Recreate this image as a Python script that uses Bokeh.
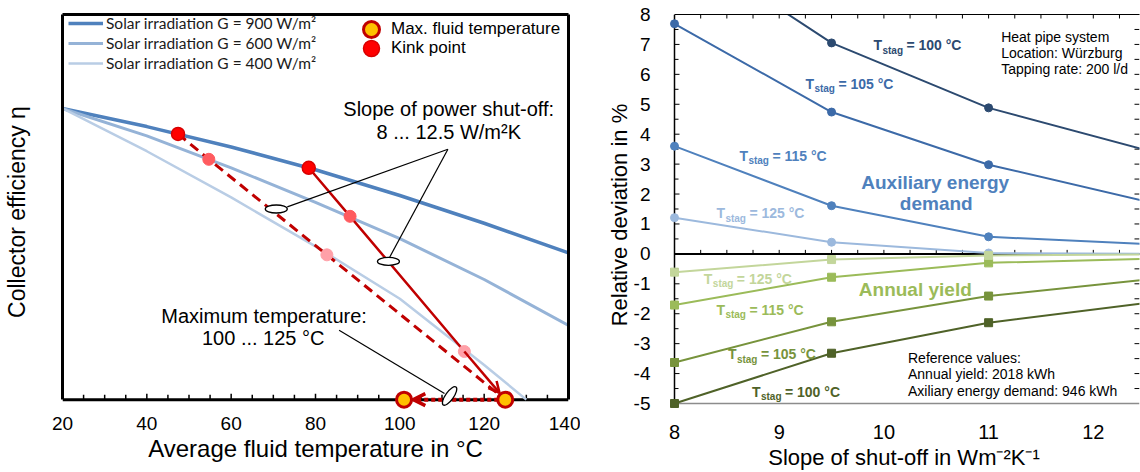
import numpy as np
from bokeh.plotting import figure
from bokeh.layouts import row
from bokeh.models import (Range1d, LinearAxis, FixedTicker, Legend, LegendItem, Arrow,
                          OpenHead)
from bokeh.core.properties import value
from bokeh.embed import file_html
from bokeh.resources import INLINE

# ---------------- data : left panel (collector efficiency curves) ----------------
temp = [20, 40, 60, 80, 100, 120, 140]
eta_900 = [0.756, 0.709, 0.656, 0.597, 0.530, 0.458, 0.381]
eta_600 = [0.756, 0.685, 0.602, 0.512, 0.418, 0.312, 0.193]
temp_400 = [20, 40, 60, 80, 100, 120, 130]
eta_400 = [0.756, 0.645, 0.525, 0.398, 0.262, 0.090, 0.0]

kink_t = [47.4, 78.4]
kink_eta = [0.690, 0.602]
pink600_t = [54.7, 88.2]
pink600_eta = [0.624, 0.476]
pink400_t = [82.7, 115.3]
pink400_eta = [0.376, 0.125]
max_t = [101, 125]
max_eta = [0.0, 0.0]

dashed_t = [47.4, 54.7, 82.7, 125]
dashed_eta = [0.690, 0.624, 0.376, 0.0]
solid_t = [78.4, 88.2, 115.3, 125]
solid_eta = [0.602, 0.476, 0.125, 0.0]

left_ticks = [20, 40, 60, 80, 100, 120, 140]

# ---------------- data : right panel (relative deviation) ----------------
slope = [8, 9.5, 11, 12.5]
aux_100 = [10.5, 7.05, 4.88, 3.47]
aux_105 = [7.69, 4.74, 2.98, 1.76]
aux_115 = [3.60, 1.61, 0.57, 0.33]
aux_125 = [1.21, 0.39, 0.03, 0.0]
yield_125 = [-0.61, -0.19, -0.05, -0.02]
yield_115 = [-1.71, -0.78, -0.30, -0.165]
yield_105 = [-3.63, -2.27, -1.41, -0.86]
yield_100 = [-5.0, -3.32, -2.30, -1.64]

x_ticks = [8, 9, 10, 11, 12]
y_ticks = [-5, -4, -3, -2, -1, 0, 1, 2, 3, 4, 5, 6, 7, 8]
y_tick_labels = ["-5", "-4", "-3", "-2", "-1", "0", "1", "2", "3", "4", "5", "6", "7", "8"]

FONT = "Liberation Sans"
DARKRED = "#C00000"

def bare_axis(width, color="black", bounds="auto"):
    return LinearAxis(ticker=FixedTicker(ticks=[]), major_tick_in=0, major_tick_out=0,
                      minor_tick_in=0, minor_tick_out=0, major_label_standoff=0,
                      axis_line_color=color, axis_line_width=width, bounds=bounds)

# =============================== LEFT PANEL ===============================
LW, LH = 580, 472
L_BL, L_BR, L_BT, L_BB = 59, 12, 12, 59
L_Y0 = -10 / 391          # small margin below eta = 0 so bottom markers are not clipped
left = figure(width=LW, height=LH, x_range=Range1d(20, 140), y_range=Range1d(L_Y0, 1),
              output_backend="svg", toolbar_location=None,
              min_border_left=L_BL, min_border_right=L_BR, min_border_top=L_BT,
              min_border_bottom=L_BB)
left.grid.grid_line_color = None
left.outline_line_color = None
left.background_fill_color = "white"
left.border_fill_color = "white"
l_py = (LH - L_BT - L_BB) / (1 - L_Y0)      # pixels per efficiency unit

xa = left.xaxis[0]
xa.ticker = FixedTicker(ticks=left_ticks)
xa.axis_line_color = None
xa.major_tick_in = 0
xa.major_tick_out = 0
xa.minor_tick_in = 0
xa.minor_tick_out = 0
xa.major_label_text_font = FONT
xa.major_label_text_font_size = "19px"
xa.major_label_text_color = "black"
xa.major_label_standoff = 7
xa.axis_label = "Average fluid temperature in °C"
xa.axis_label_text_font = FONT
xa.axis_label_text_font_size = "24px"
xa.axis_label_text_font_style = "normal"
xa.axis_label_text_color = "black"
xa.axis_label_standoff = 2

ya = left.yaxis[0]
ya.ticker = FixedTicker(ticks=[])
ya.axis_line_color = "black"
ya.axis_line_width = 3
ya.bounds = (0, 1)
ya.major_tick_in = 0
ya.major_tick_out = 0
ya.minor_tick_in = 0
ya.minor_tick_out = 0
ya.major_label_standoff = 0
ya.axis_label = "Collector efficiency η"
ya.axis_label_text_font = FONT
ya.axis_label_text_font_size = "23px"
ya.axis_label_text_font_style = "normal"
ya.axis_label_text_color = "black"
ya.axis_label_standoff = 33

left.add_layout(bare_axis(3), "above")
left.add_layout(bare_axis(3, bounds=(0, 1)), "right")

# temperature axis line at eta = 0 with inward ticks
left.segment(x0=[20], y0=[0], x1=[140], y1=[0], line_color="black", line_width=3)
tt = np.arange(25, 140, 5)
tl = np.where(tt % 20 == 0, 6, 5) / l_py
left.segment(x0=tt, y0=np.zeros(len(tt)), x1=tt, y1=tl, line_color="black", line_width=1.5)

r900 = left.line(temp, eta_900, line_color="#4F81BD", line_width=3.5)
r600 = left.line(temp, eta_600, line_color="#95B3D7", line_width=3)
r400 = left.line(temp_400, eta_400, line_color="#B9CDE5", line_width=2.5)

# shut-off lines
left.line(dashed_t, dashed_eta, line_color=DARKRED, line_width=3, line_dash="10 6")
left.line(solid_t[:-1], solid_eta[:-1], line_color=DARKRED, line_width=2.5)

# arrow heads (tip stops at the edge of the max.-temperature marker)
f = 0.14
tip_x = solid_t[-1] + f * (solid_t[-2] - solid_t[-1])
tip_y = solid_eta[-1] + f * (solid_eta[-2] - solid_eta[-1])
left.add_layout(Arrow(end=OpenHead(size=11, line_color=DARKRED, line_width=2.5),
                      x_start=solid_t[-2], y_start=solid_eta[-2], x_end=tip_x, y_end=tip_y,
                      line_color=DARKRED, line_width=2.5))
dot_tip = max_t[0] + 2.2
left.add_layout(Arrow(end=OpenHead(size=12, line_color=DARKRED, line_width=3.5),
                      x_start=max_t[1], y_start=max_eta[1], x_end=dot_tip, y_end=max_eta[0],
                      line_color=DARKRED, line_width=4, line_dash="4 3"))

# callout lines and ellipses
apex = (111.4, 0.650)
left.segment(x0=[73.3, 97.4, 85.6], y0=[0.5005, 0.366, 0.180],
             x1=[apex[0], apex[0], 110.6], y1=[apex[1], apex[1], 0.016],
             line_color="black", line_width=1.2)
left.ellipse(x=[70.7, 97.3], y=[0.495, 0.359], width=22, height=8,
             width_units="screen", height_units="screen",
             fill_color="white", line_color="black", line_width=1.3)
left.ellipse(x=[111.8], y=[0.0095], width=22, height=8, angle=0.95,
             width_units="screen", height_units="screen",
             fill_color="white", line_color="black", line_width=1.3, level="overlay")

# markers
left.scatter(pink600_t, pink600_eta, size=12, fill_color="#FF5B5F", line_color="#FF5B5F")
left.scatter(pink400_t, pink400_eta, size=12, fill_color="#FFA0A8", line_color="#FFA0A8")
r_kink = left.scatter(kink_t, kink_eta, size=13, fill_color="#FF0000", line_color="#D80000",
                      line_width=1.5)
r_max = left.scatter(max_t, max_eta, size=15, fill_color="#FFC000", line_color=DARKRED,
                     line_width=3, level="overlay")

# annotation texts
left.text(x=[111.6, 111.6], y=[0.754, 0.694],
          text=["Slope of power shut-off:", "8 ... 12.5 W/m²K"],
          text_font=value(FONT), text_font_size="20px", text_color="black",
          text_align="center", text_baseline="middle")
left.text(x=[67.8, 67.6], y=[0.217, 0.160],
          text=["Maximum temperature:", "100 ... 125 °C"],
          text_font=value(FONT), text_font_size="20px", text_color="black",
          text_align="center", text_baseline="middle")

legend_common = dict(padding=0, margin=0, border_line_color=None, background_fill_alpha=0)
legend1 = Legend(items=[LegendItem(label="Solar irradiation G = 900 W/m²", renderers=[r900]),
                        LegendItem(label="Solar irradiation G = 600 W/m²", renderers=[r600]),
                        LegendItem(label="Solar irradiation G = 400 W/m²", renderers=[r400])],
                 location=(6, 336), glyph_width=35, glyph_height=20, label_height=20,
                 spacing=0, label_standoff=3,
                 label_text_font="Lato", label_text_font_size="15.5px",
                 label_text_color="#1a1a1a", **legend_common)
legend_max = Legend(items=[LegendItem(label="Max. fluid temperature", renderers=[r_max])],
                    location=(289, 360), glyph_width=40, glyph_height=40, label_height=40,
                    label_standoff=-3, label_text_font=FONT, label_text_font_size="17px",
                    label_text_color="black", **legend_common)
legend_kink = Legend(items=[LegendItem(label="Kink point", renderers=[r_kink])],
                     location=(289, 341), glyph_width=40, glyph_height=40, label_height=40,
                     label_standoff=-3, label_text_font=FONT, label_text_font_size="17px",
                     label_text_color="black", **legend_common)
left.add_layout(legend1)
left.add_layout(legend_max)
left.add_layout(legend_kink)

# =============================== RIGHT PANEL ===============================
RW, RH = 560, 472
R_BL, R_BR, R_BT, R_BB = 88, 1, 14, 63
R_X0 = 8 - 6 / 104.7       # small margin left of x = 8 so edge markers are not clipped
R_XEND = 8 + 465 / 104.7
R_Y0 = -5 - 6 / 29.92
right = figure(width=RW, height=RH, x_range=Range1d(R_X0, R_XEND), y_range=Range1d(R_Y0, 8),
               output_backend="svg", toolbar_location=None,
               min_border_left=R_BL, min_border_right=R_BR, min_border_top=R_BT,
               min_border_bottom=R_BB)
right.grid.grid_line_color = None
right.outline_line_color = None
right.background_fill_color = "white"
right.border_fill_color = "white"
frame_w = RW - R_BL - R_BR
frame_h = RH - R_BT - R_BB
dx_px = (R_XEND - R_X0) / frame_w
dy_px = (8 - R_Y0) / frame_h

ry = right.yaxis[0]
ry.ticker = FixedTicker(ticks=y_ticks)
ry.major_label_overrides = {float(t): l for t, l in zip(y_ticks, y_tick_labels)}
ry.axis_line_color = None
ry.major_tick_in = 0
ry.major_tick_out = 0
ry.minor_tick_in = 0
ry.minor_tick_out = 0
ry.major_label_standoff = 18
ry.major_label_text_font = FONT
ry.major_label_text_font_size = "19px"
ry.major_label_text_color = "black"
ry.axis_label = "Relative deviation  in %"
ry.axis_label_text_font = FONT
ry.axis_label_text_font_size = "22px"
ry.axis_label_text_font_style = "normal"
ry.axis_label_text_color = "black"
ry.axis_label_standoff = -1

rx = right.xaxis[0]
rx.ticker = FixedTicker(ticks=x_ticks)
rx.axis_line_color = None
rx.major_tick_in = 0
rx.major_tick_out = 0
rx.minor_tick_in = 0
rx.minor_tick_out = 0
rx.major_label_standoff = 15
rx.major_label_text_font = FONT
rx.major_label_text_font_size = "20px"
rx.major_label_text_color = "black"
rx.axis_label = "Slope of shut-off in Wm⁻²K⁻¹"
rx.axis_label_text_font = FONT
rx.axis_label_text_font_size = "22px"
rx.axis_label_text_font_style = "normal"
rx.axis_label_text_color = "black"
rx.axis_label_standoff = 3

right.add_layout(bare_axis(1.2, bounds=(8, R_XEND)), "above")

# frame lines: left axis at x = 8, gray bottom at -5, zero line
right.segment(x0=[8, 8, 8], y0=[-5, -5, 0], x1=[8, R_XEND, R_XEND], y1=[8, -5, 0],
              line_color=["black", "#8C8C8C", "black"], line_width=[1.5, 1.5, 2])
# inward tick marks
qx = np.arange(8.25, R_XEND, 0.25)
right.segment(x0=qx, y0=np.full(len(qx), 8.0), x1=qx, y1=np.full(len(qx), 8 - 4 * dy_px),
              line_color="black", line_width=1)
right.segment(x0=qx, y0=np.zeros(len(qx)), x1=qx, y1=np.full(len(qx), 4 * dy_px),
              line_color="black", line_width=1)
hy = np.arange(-4.5, 8, 0.5)
hl = np.where(hy % 1 == 0, 5, 4) * dx_px
right.segment(x0=np.full(len(hy), 8.0), y0=hy, x1=8 + hl, y1=hy,
              line_color="black", line_width=1)
right.segment(x0=np.full(len(hy), R_XEND), y0=hy, x1=np.full(len(hy), R_XEND - 5 * dx_px),
              y1=hy, line_color="black", line_width=1)

aux_colors = ["#2C4A70", "#3C6AA8", "#4F81BD", "#9CB9DD"]
yld_colors = ["#4F6228", "#77933C", "#9BBB59", "#C3D69B"]

for vals, col in zip([aux_100, aux_105, aux_115, aux_125], aux_colors):
    right.line(slope, vals, line_color=col, line_width=2)
    right.scatter(slope, vals, marker="circle", size=8, fill_color=col, line_color=col)
for vals, col in zip([yield_100, yield_105, yield_115, yield_125], yld_colors):
    right.line(slope, vals, line_color=col, line_width=2)
    right.scatter(slope, vals, marker="square", size=8, fill_color=col, line_color=col)

def tstag(fig, x, y, num, col):
    common = dict(text_font=value(FONT), text_font_style="bold", text_color=col,
                  text_align="left", text_baseline="middle")
    fig.text(x=[x], y=[y], text=["T"], text_font_size="14px", **common)
    fig.text(x=[x], y=[y], text=["stag"], text_font_size="10px", x_offset=9, y_offset=5, **common)
    fig.text(x=[x], y=[y], text=["= %d °C" % num], text_font_size="14px", x_offset=33, **common)

tstag(right, 9.90, 6.97, 100, aux_colors[0])
tstag(right, 9.25, 5.69, 105, aux_colors[1])
tstag(right, 8.62, 3.28, 115, aux_colors[2])
tstag(right, 8.40, 1.36, 125, aux_colors[3])
tstag(right, 8.28, -0.83, 125, yld_colors[3])
tstag(right, 8.40, -1.86, 115, yld_colors[2])
tstag(right, 8.51, -3.36, 105, yld_colors[1])
tstag(right, 8.74, -4.60, 100, yld_colors[0])

right.text(x=[10.49, 10.50], y=[2.40, 1.69], text=["Auxiliary energy", "demand"],
           text_font=value(FONT), text_font_style="bold", text_font_size="19px",
           text_color="#4F81BD", text_align="center", text_baseline="middle")
right.text(x=[10.30], y=[-1.20], text=["Annual yield"],
           text_font=value(FONT), text_font_style="bold", text_font_size="19px",
           text_color="#9BBB59", text_align="center", text_baseline="middle")
right.text(x=[11.12, 11.12, 11.12], y=[7.24, 6.70, 6.18],
           text=["Heat pipe system", "Location: Würzburg", "Tapping rate: 200 l/d"],
           text_font=value(FONT), text_font_size="14px", text_color="black",
           text_align="left", text_baseline="middle")
right.text(x=[10.23, 10.23, 10.23], y=[-3.47, -4.02, -4.57],
           text=["Reference values:", "Annual yield: 2018 kWh", "Axiliary energy demand: 946 kWh"],
           text_font=value(FONT), text_font_size="14px", text_color="black",
           text_align="left", text_baseline="middle")

layout = row(left, right)
open("out.html", "w").write(file_html(layout, INLINE))
